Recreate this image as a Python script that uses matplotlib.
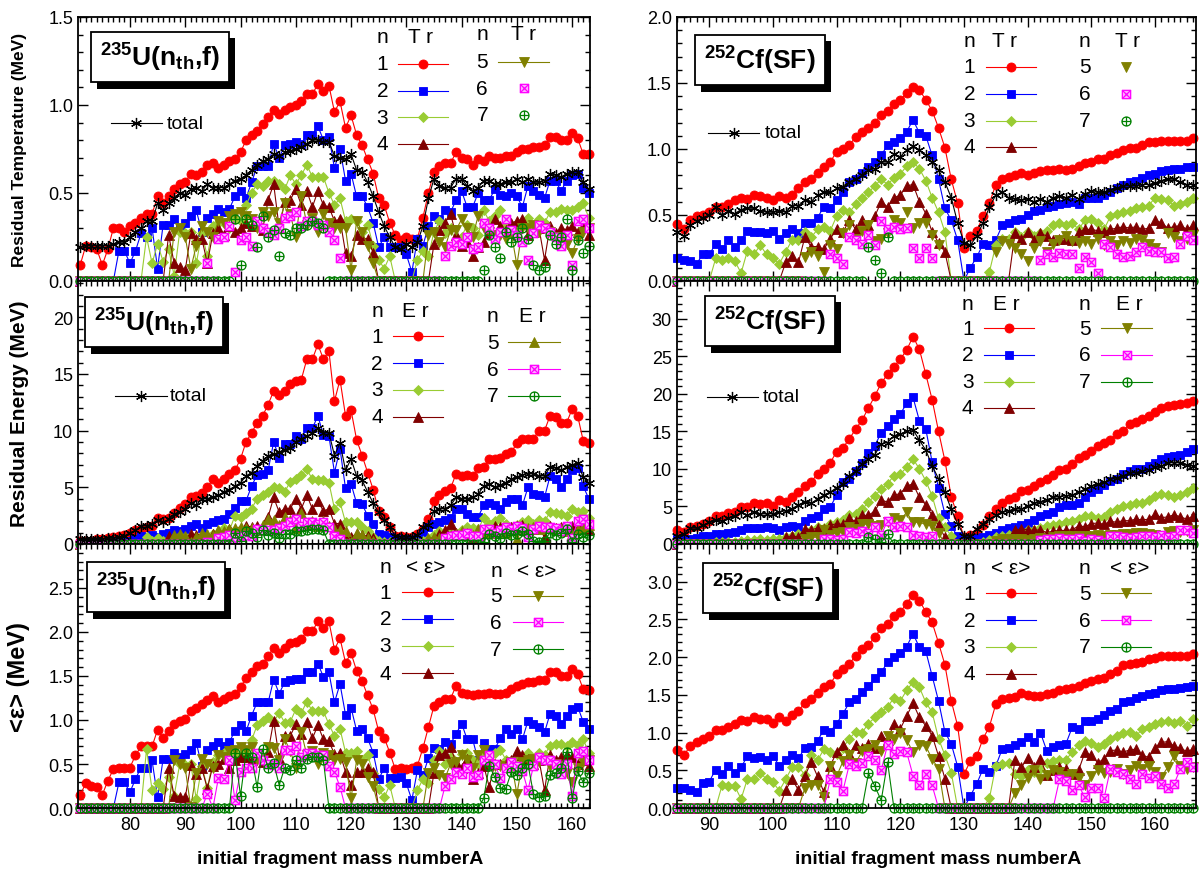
import matplotlib
matplotlib.use('Agg')
import matplotlib.pyplot as plt
import matplotlib.patheffects as pe
from matplotlib.path import Path
from matplotlib.ticker import MultipleLocator, FormatStrFormatter

plt.rcParams['font.family'] = ['Liberation Sans', 'DejaVu Sans']
plt.rcParams['mathtext.fontset'] = 'custom'
plt.rcParams['mathtext.rm'] = 'Liberation Sans'
plt.rcParams['mathtext.bf'] = 'Liberation Sans:bold'
plt.rcParams['mathtext.it'] = 'Liberation Sans:italic'

# mass numbers
A_U = list(range(71, 164))
A_CF = list(range(85, 167))

# ---------------- 235U(nth,f): residual temperature ----------------
U_TR_1 = [.09, .20, .19, .18, .09, .18, .30, .30, .28, .31,
          .33, .36, .38, .38, .48, .44, .48, .52, .55, .56,
          .61, .60, .62, .66, .67, .64, .66, .68, .69, .73,
          .80, .83, .85, .89, .93, .97, .95, .97, .99, 1.00,
          1.02, 1.06, 1.06, 1.12, 1.08, 1.11, .96, 1.02, .87, .94,
          .83, .77, .69, .61, .47, .43, .33, .26, .23, .25,
          .24, .24, .36, .50, .62, .65, .67, .67, .73, .70,
          .69, .66, .69, .68, .71, .70, .70, .71, .71, .73,
          .75, .75, .76, .76, .77, .82, .82, .80, .80, .84,
          .81, .72, .72]
U_TR_2 = [0, 0, 0, 0, 0, 0, 0, .17, .17, .10,
          .17, .27, .25, .30, .07, .32, .32, .35, .30, .33,
          .37, .40, .28, .36, .38, .41, .39, .41, .48, .51,
          .47, .56, .65, .65, .65, .78, .70, .77, .78, .79,
          .78, .83, .83, .88, .80, .82, .64, .75, .57, .61,
          .48, .48, .42, .33, .19, .25, .19, .19, .19, .15,
          .05, .24, .20, .31, .37, .35, .40, .39, .46, .51,
          .42, .42, .50, .46, .46, .52, .49, .48, .50, .48,
          .42, .54, .51, .49, .47, .57, .57, .51, .57, .60,
          .61, .53, .50]
U_TR_3 = [0] * 12 + [.25, .10, .21, .11, .18, .03, .28, .27,
          .28, .10, .27, .14, .31, .33, .33, .30, .35, .34,
          .43, .50, .55, .54, .57, .57, .55, .52, .60, .55,
          .60, .66, .59, .59, .59, .50, .43, .47, .34, .35,
          .34, .28, .32, .20, .12, .07, .14, 0, 0, 0,
          0, .12, .17, .14, .28, .34, .27, .30, .22, .25,
          .32, .30, .26, .40, .34, .37, .40, .32, .28, .30,
          .33, .36, .30, .35, .33, .39, .39, .41, .40, .40,
          .42, .44, .36]
U_TR_4 = [0] * 16 + [.26, .10, .08, .06,
          .27, .24, .24, .10, .27, .30, .26, .31, .28, .30,
          .33, .31, .32, .29, .46, .55, .30, .45, .46, .52,
          .43, .51, .42, .51, .43, .42, .34, .35, .16, .14,
          .26, .24, .24, .16] + [0] * 10 + [.21, .29, .33, .38, .26, .20,
          .22, .14, .19, .22, .27, .35, .31, .29, .33, .34,
          .35, .26, .28, .30, .12, .31, .27, .30, .29, .31,
          .28, .31, .26]
U_TR_5 = [0] * 17 + [.28, .30, .25,
          .07, .20, .31, .28, .25, .34, .33, .37, .38, .39,
          .37, .35, .30, .39, .37, .39, .33, .44, .38, .25,
          .48, .32, .36, .28, .38, .33, .30, .30, .30, .06,
          .34, .28, .20, .10] + [0] * 9 + [.26, .28, .22, .19, .29, .29, .35,
          .30, .25, .37, .30, .28, .26, .26, .24, .27, .09,
          .30, .30, .32, .28, .30, .28, .25, .25, .21, .16,
          .24, .28, .30]
U_TR_6 = [0] * 23 + [.10, 0, .24, .25, .31, .05, .23,
          .25, .20, .34, .30, .28, .26, .30, .36, .37, .39,
          .31, .34, .34, .32, .32, .28, .23, .13] + [0] * 18 + [.14, .20, .22, .21,
          .25, .18, .19, .33, .30, .24, .28, .35, .29, .26,
          .22, .12, .27, .32, .30, .28, .25, .20, .26, .09,
          .34, .35, .30]
U_TR_7 = [0] * 28 + [.35, .09,
          .35, .32, .19, .37, .25, .29, .14, .27, .26, .30,
          .30, .32, .34, .33, .30] + [0] * 28 + [.06, .26, .19, .13, .28, .22, .25,
          .30, .24, .09, .06, .08, .26, .21, .25, .35, .06,
          .23, .16, .20]
U_TR_TOT = [.19, .20, .20, .20, .20, .20, .21, .22, .22, .25,
            .28, .30, .34, .34, .44, .40, .44, .47, .50, .49,
            .52, .53, .51, .55, .53, .53, .53, .55, .57, .58,
            .60, .63, .66, .68, .69, .72, .71, .73, .74, .75,
            .76, .78, .80, .80, .79, .79, .71, .70, .69, .72,
            .63, .62, .56, .48, .39, .31, .25, .19, .18, .21,
            .19, .22, .31, .47, .58, .54, .53, .53, .58, .58,
            .54, .51, .53, .57, .57, .55, .55, .56, .56, .58,
            .56, .58, .56, .56, .57, .61, .60, .59, .61, .62,
            .62, .56, .52]

# ---------------- 235U(nth,f): residual energy ----------------
U_ER_1 = [.3, .3, .3, .4, .4, .5, .6, .7, .8, 1.0,
          1.2, 1.3, 1.5, 1.6, 2.3, 2.2, 2.3, 2.7, 3.2, 3.5,
          4.1, 4.2, 4.5, 5.0, 5.7, 5.4, 5.7, 6.2, 6.5, 7.5,
          9.0, 9.8, 10.7, 11.3, 12.3, 13.5, 13.1, 13.5, 14.1, 14.4,
          14.5, 16.3, 16.3, 17.6, 16.3, 17.0, 12.6, 14.5, 11.3, 11.8,
          9.2, 7.8, 6.3, 4.8, 2.9, 2.4, 1.5, .7, .7, .6,
          .6, .9, 1.3, 2.2, 3.8, 4.3, 4.7, 4.9, 6.2, 6.0,
          6.1, 6.0, 6.7, 6.8, 7.5, 7.5, 7.6, 7.9, 8.1, 8.9,
          9.3, 9.3, 9.3, 10.0, 10.0, 11.3, 11.2, 10.7, 10.7, 11.9,
          11.3, 9.1, 8.9]
U_ER_2 = [0, 0, 0, 0, 0, 0, .1, .2, .3, .3,
          .4, .7, .6, .8, .6, .9, 1.0, 1.2, 1.1, 1.3,
          1.6, 1.8, 1.4, 1.8, 1.9, 2.1, 2.2, 2.6, 3.2, 3.8,
          3.8, 5.1, 6.1, 6.2, 6.5, 9.0, 7.6, 8.8, 8.8, 9.5,
          9.3, 10.2, 10.2, 11.3, 9.6, 9.5, 6.3, 8.4, 4.9, 5.3,
          3.6, 3.5, 2.5, 1.8, .9, .8, .6, .4, .4, .4,
          .3, .4, 1.0, 1.5, 1.8, 1.9, 2.1, 2.3, 3.1, 3.1,
          2.6, 2.4, 2.4, 3.4, 3.6, 3.4, 3.1, 3.7, 4.0, 4.0,
          3.4, 5.0, 4.4, 4.3, 4.1, 6.0, 5.7, 5.0, 5.7, 6.5,
          6.7, 5.1, 4.0]
U_ER_3 = [0] * 12 + [.6, .3, .5, .3, .4, .1, .7, .6,
          .7, .3, .7, .4, .9, 1.0, 1.4, 1.2, 2.5, 2.4,
          2.7, 3.1, 4.0, 4.3, 4.6, 5.0, 4.9, 4.6, 5.5, 5.7,
          6.1, 6.6, 5.7, 5.6, 5.6, 5.4, 3.1, 3.7, 1.9, 1.9,
          1.9, 1.5, 1.1, .6, .3, .2, .2, 0, 0, 0,
          0, .2, .3, .4, .8, 1.1, 1.0, 1.2, .9, 1.2,
          1.5, 1.4, 1.3, 2.3, 1.8, 2.0, 2.3, 1.8, 1.5, 1.7,
          1.9, 2.1, 1.8, 2.1, 2.0, 2.8, 2.7, 2.6, 2.5, 3.1,
          2.8, 2.9, 2.3]
U_ER_4 = [0] * 16 + [.7, .3, .2, .2,
          .9, .8, .8, .3, .9, 1.1, 1.0, 1.3, 1.2, 1.3,
          1.6, 1.5, 1.6, 1.5, 2.4, 4.1, 2.8, 3.1, 3.1, 4.0,
          3.1, 4.3, 3.1, 3.8, 2.9, 3.1, 1.8, 1.8, 1.0, .6,
          .9, .8, .7, .5] + [0] * 10 + [.5, .9, 1.2, 1.8, 1.0, .8,
          .9, .6, .8, 1.0, 1.2, 1.6, 1.5, 1.4, 1.5, 1.6,
          1.7, 1.2, 1.3, 1.4, .6, 1.6, 1.4, 1.5, 1.5, 1.6,
          1.4, 1.7, 1.3]
U_ER_5 = [0] * 17 + [.8, .9, .7,
          .2, .6, 1.0, .9, .8, 1.2, 1.1, 1.3, 1.4, 1.5,
          1.4, 1.4, 1.2, 1.7, 2.2, 2.1, 1.7, 2.4, 2.1, 1.4,
          2.7, 1.8, 2.0, 1.6, 2.0, 1.6, 1.3, 1.2, 1.1, .2,
          1.0, .8, .5, .3] + [0] * 9 + [.5, .6, .5, .5, .8, .9, 1.1,
          1.0, .8, 1.3, 1.1, 1.0, 1.0, 1.1, 1.0, 1.2, .4,
          1.3, 1.4, 1.5, 1.3, 1.4, 1.4, 1.3, 1.3, 1.1, .9,
          1.3, 1.5, 1.7]
U_ER_6 = [0] * 23 + [.2, 0, .5, .6, .8, .15, .7,
          .8, .7, 1.3, 1.2, 1.2, 1.2, 1.4, 1.6, 1.9, 2.2,
          1.6, 1.9, 1.9, 1.8, 1.9, 1.5, .7, .4] + [0] * 18 + [.5, .7, .8, .8,
          1.0, .7, .7, 1.3, 1.3, 1.0, 1.2, 1.5, 1.3, 1.6,
          1.4, .6, 1.3, 1.6, 1.5, 1.5, 1.4, 1.1, 1.6, .5,
          2.0, 2.2, 1.8]
U_ER_7 = [0] * 28 + [1.0, .3,
          1.1, 1.0, .6, 1.2, .8, 1.0, .5, .9, .9, 1.1,
          1.1, 1.2, 1.3, 1.3, 1.2] + [0] * 28 + [.2, .9, .7, .5, 1.0, .8, .9,
          1.1, .9, .3, .2, .3, 1.0, .8, 1.0, 1.3, .2,
          .9, .6, .8]
U_ER_TOT = [.4, .4, .4, .4, .4, .5, .5, .6, .7, 1.0,
            1.2, 1.6, 1.6, 1.8, 2.1, 1.9, 2.2, 2.6, 2.8, 3.1,
            3.6, 3.4, 4.0, 4.0, 4.1, 4.3, 4.6, 4.8, 5.1, 5.4,
            6.0, 6.3, 6.9, 7.3, 7.8, 7.9, 8.1, 8.3, 8.5, 9.0,
            9.3, 9.5, 9.8, 10.2, 9.8, 9.8, 7.8, 8.9, 6.5, 7.5,
            6.0, 5.6, 4.6, 3.6, 2.8, 2.1, 1.5, .7, .6, .6,
            .6, .8, 1.5, 1.7, 2.9, 3.1, 3.1, 3.4, 4.1, 4.0,
            4.0, 4.1, 4.4, 5.1, 5.3, 5.0, 5.2, 5.4, 5.7, 5.9,
            6.1, 6.2, 6.2, 6.0, 6.0, 6.8, 6.7, 6.5, 6.8, 7.0,
            7.1, 5.9, 5.4]

# ---------------- 235U(nth,f): mean neutron energy ----------------
U_EP_1 = [.15, .28, .25, .24, .15, .31, .44, .45, .45, .46,
          .60, .70, .70, .70, .89, .79, .88, .95, .99, 1.01,
          1.10, 1.14, 1.18, 1.23, 1.27, 1.20, 1.24, 1.27, 1.30, 1.37,
          1.48, 1.54, 1.61, 1.64, 1.73, 1.82, 1.76, 1.82, 1.87, 1.89,
          1.92, 2.01, 2.01, 2.12, 2.05, 2.12, 1.80, 1.93, 1.65, 1.76,
          1.56, 1.44, 1.28, 1.12, .87, .80, .63, .44, .45, .44,
          .45, .48, .68, .92, 1.16, 1.21, 1.24, 1.24, 1.39, 1.31,
          1.29, 1.28, 1.29, 1.30, 1.31, 1.30, 1.30, 1.31, 1.35, 1.39,
          1.41, 1.43, 1.43, 1.46, 1.46, 1.54, 1.54, 1.50, 1.50, 1.58,
          1.52, 1.35, 1.34]
U_EP_2 = [0, 0, 0, 0, 0, 0, 0, .29, .29, .18,
          .33, .46, .46, .54, .12, .56, .56, .63, .58, .61,
          .66, .74, .48, .66, .70, .75, .71, .75, .88, .94,
          .87, 1.05, 1.20, 1.20, 1.20, 1.46, 1.30, 1.43, 1.46, 1.47,
          1.47, 1.55, 1.55, 1.64, 1.49, 1.54, 1.20, 1.41, 1.06, 1.14,
          .88, .90, .79, .63, .33, .45, .34, .34, .35, .28,
          .09, .43, .37, .57, .68, .67, .75, .73, .84, .96,
          .78, .78, .54, .74, .67, .67, .79, .90, .84, .90,
          .78, .99, .95, .92, .86, 1.07, 1.05, .95, 1.05, 1.12,
          1.15, .98, .90]
U_EP_3 = [0] * 12 + [.67, .20, .28, .22, .35, .14, .50, .49,
          .50, .10, .48, .23, .52, .60, .63, .58, .62, .60,
          .62, .77, .94, .99, 1.03, .98, 1.08, .97, .98, 1.12,
          1.08, 1.21, 1.10, 1.10, 1.10, .95, .82, .90, .63, .63,
          .65, .55, .60, .40, .22, .12, .26, 0, 0, 0,
          0, .20, .33, .28, .55, .65, .50, .58, .45, .61,
          .62, .55, .50, .62, .55, .63, .66, .55, .52, .55,
          .58, .63, .56, .62, .60, .71, .73, .73, .70, .75,
          .72, .78, .63]
U_EP_4 = [0] * 16 + [.45, .14, .13, .12,
          .49, .39, .45, .22, .48, .50, .56, .45, .55, .58,
          .58, .55, .60, .52, .64, .99, .57, .82, .82, .95,
          .84, .98, .79, .94, .78, .76, .61, .62, .41, .26,
          .41, .41, .45, .41] + [0] * 10 + [.40, .60, .63, .69, .52, .45,
          .56, .33, .40, .48, .24, .50, .50, .50, .55, .65,
          .60, .56, .50, .55, .20, .60, .55, .58, .60, .58,
          .50, .55, .48]
U_EP_5 = [0] * 17 + [.55, .50, .45,
          .01, .40, .56, .50, .45, .60, .58, .65, .66, .69,
          .66, .69, .55, .54, .69, .68, .55, .78, .65, .46,
          .86, .60, .65, .50, .63, .60, .54, .56, .52, .11,
          .54, .50, .35, .25] + [0] * 9 + [.40, .45, .38, .34, .50, .52, .60,
          .55, .45, .60, .66, .50, .48, .48, .46, .52, .16,
          .52, .55, .56, .52, .55, .48, .50, .48, .40, .30,
          .45, .52, .55]
U_EP_6 = [0] * 23 + [.16, 0, .34, .33, .54, .09, .41,
          .45, .46, .63, .55, .50, .49, .46, .66, .66, .71,
          .58, .63, .63, .60, .60, .48, .41, .24] + [0] * 18 + [.25, .33, .41, .39,
          .45, .35, .38, .55, .60, .50, .34, .45, .52, .48,
          .42, .20, .48, .58, .55, .55, .50, .39, .50, .14,
          .63, .65, .55]
U_EP_7 = [0] * 28 + [.63, .14,
          .63, .58, .24, .67, .45, .51, .26, .46, .43, .54,
          .46, .56, .58, .58, .54] + [0] * 28 + [.11, .48, .35, .23, .22, .41, .38,
          .45, .50, .16, .12, .14, .38, .40, .45, .64, .11,
          .42, .29, .40]

# ---------------- 252Cf(SF): residual temperature ----------------
CF_TR_1 = [.43, .39, .46, .49, .50, .52, .56, .56, .58, .61,
           .63, .62, .65, .64, .63, .61, .64, .63, .65, .70,
           .75, .77, .82, .86, .90, .98, 1.00, 1.03, 1.09, 1.13,
           1.16, 1.20, 1.26, 1.29, 1.34, 1.37, 1.42, 1.47, 1.45, 1.37,
           1.29, 1.16, 1.01, .77, .59, .25, .34, .38, .49, .59,
           .73, .77, .79, .80, .82, .80, .82, .83, .84, .84,
           .85, .84, .85, .87, .89, .90, .92, .92, .95, .97,
           .99, 1.01, 1.01, 1.03, 1.05, 1.05, 1.06, 1.06, 1.06, 1.06,
           1.06, 1.08]
CF_TR_2 = [.17, .16, .15, .13, .20, .20, .28, .24, .31, .26,
           .31, .38, .37, .37, .36, .38, .32, .36, .39, .36,
           .44, .44, .48, .56, .55, .61, .67, .75, .77, .82,
           .86, .90, .95, 1.03, 1.05, 1.08, 1.13, 1.22, 1.12, 1.10,
           .95, .77, .55, .46, .31, 0, .10, .18, .28, .27,
           .31, .42, .44, .46, .47, .50, .53, .54, .56, .57,
           .58, .59, .60, .58, .63, .63, .63, .65, .67, .70,
           .73, .75, .76, .78, .80, .81, .83, .84, .85, .85,
           .86, .86]
CF_TR_3 = [0, 0, 0, 0, 0, 0, .17, .16, .17, .15,
           .06, .23, .20, .27, .20, .17, .13, .22, .31, .31,
           .37, .33, .39, .41, .38, .49, .54, .52, .58, .63,
           .67, .72, .77, .73, .78, .81, .87, .90, .85, .76,
           .63, .52, .37, 0, 0, 0, 0, 0, 0, .07,
           .27, .32, .32, .37, .33, .37, .34, .36, .38, .42,
           .44, .42, .44, .39, .46, .47, .44, .39, .49, .51,
           .52, .53, .55, .56, .57, .63, .62, .61, .57, .58,
           .60, .63]
CF_TR_4 = [0] * 17 + [.14, .19, .14,
           .33, .26, .26, .24, .32, .39, .37, .46, .39, .46,
           .42, .49, .60, .56, .63, .65, .72, .73, .60, .51,
           .37, .29, .22] + [0] * 10 + [.36, .32, .37, .31, .36, .34, .31,
           .32, .32, .31, .37, .39, .39, .38, .37, .39, .40,
           .41, .40, .41, .39, .40, .46, .44, .40, .41, .42,
           .39, .42]
CF_TR_5 = [0] * 20 + [.18, .22, .19, .07, .27, .24, .36, .42, .32, .38,
           .42, .30, .32, .36, .46, .44, .52, .40, .44, .44,
           .35, .27] + [0] * 8 + [.22, .30, .28, .25, .20, .15, .25, .30, .22, .28,
           .31, .34, .30, .29, .30, .28, .32, .27, .30, .27,
           .30, .29, .32, .31, .28, .25, .22, .36, .33, .30,
           .32, .35]
CF_TR_6 = [0] * 24 + [.20, .17, .13, .33, .31, .28,
           .35, .27, .45, .39, .41, .39, .40, .25, .17, .25,
           .17] + [0] * 16 + [.16, .20, .18, .21, .20, .20, .10, .18, .14, .06, .28, .26, .20,
           .18, .19, .22, .26, .23, .22, .22, .17, .18, .28,
           .34, .31]
CF_TR_7 = [0] * 30 + [.26, .16, .06, .33] + [0] * 48
CF_TR_TOT = [.37, .34, .42, .45, .48, .50, .56, .50, .53, .51,
             .54, .55, .55, .53, .52, .52, .53, .52, .57, .57,
             .61, .60, .65, .67, .67, .70, .71, .75, .77, .80,
             .84, .85, .90, .90, .96, .94, .99, 1.02, .99, .95,
             .90, .84, .75, .63, .44, .29, .27, .34, .44, .56,
             .65, .67, .63, .62, .61, .62, .60, .62, .60, .63,
             .64, .63, .65, .62, .66, .68, .67, .67, .69, .70,
             .72, .72, .72, .73, .73, .74, .76, .77, .77, .75,
             .73, .73]

# ---------------- 252Cf(SF): residual energy ----------------
CF_ER_1 = [1.9, 1.6, 2.2, 2.4, 2.7, 3.0, 3.7, 3.7, 4.1, 4.3,
           4.9, 4.9, 5.4, 5.3, 5.4, 5.1, 5.9, 5.6, 6.2, 6.9,
           7.7, 8.3, 9.3, 10.0, 10.8, 12.3, 12.8, 14.0, 15.3, 16.5,
           18.1, 19.7, 21.4, 22.6, 23.6, 24.6, 25.8, 27.6, 25.9, 22.6,
           19.2, 15.0, 11.1, 6.3, 3.7, .9, 1.2, 1.5, 2.5, 3.7,
           4.6, 5.4, 6.0, 6.3, 7.1, 7.2, 7.7, 8.2, 8.6, 9.2,
           9.9, 10.0, 10.6, 11.4, 11.8, 12.4, 13.1, 13.4, 13.9, 14.6,
           15.0, 15.9, 16.2, 16.6, 17.0, 17.5, 18.1, 18.4, 18.5, 18.6,
           18.7, 19.0]
CF_ER_2 = [.6, .6, .7, .8, 1.0, 1.1, 1.3, 1.3, 1.5, 1.6,
           1.9, 2.1, 2.1, 2.1, 2.2, 2.1, 1.9, 2.3, 2.4, 2.3,
           3.1, 3.4, 3.7, 4.6, 4.9, 6.5, 8.2, 8.7, 9.7, 10.8,
           12.1, 13.1, 14.8, 15.7, 16.6, 17.3, 18.7, 19.5, 16.4, 15.3,
           10.9, 7.5, 4.0, 2.4, 1.0, .3, .7, .8, .9, 1.2,
           1.5, 1.9, 2.1, 2.3, 2.5, 2.8, 3.2, 3.7, 4.0, 4.3,
           4.9, 5.2, 5.2, 5.5, 6.3, 6.9, 7.3, 7.8, 8.4, 8.7,
           9.3, 9.7, 10.0, 10.0, 10.4, 10.8, 11.3, 11.6, 11.7, 11.9,
           12.2, 12.6]
CF_ER_3 = [0, 0, 0, 0, 0, 0, .3, .3, .3, .3,
           .4, .5, .5, .6, .5, .6, .6, .9, 1.0, 1.3,
           1.5, 1.8, 2.3, 2.1, 2.7, 2.9, 3.2, 3.8, 4.0, 4.6,
           5.6, 6.4, 7.3, 8.0, 9.1, 9.3, 10.2, 11.3, 10.0, 8.4,
           6.4, 3.4, 2.2, 1.1, 0, 0, 0, 0, .2, .5,
           .9, 1.0, 1.2, 1.5, 1.5, 1.8, 1.9, 2.1, 2.4, 2.5,
           2.7, 2.9, 3.1, 3.3, 3.7, 3.7, 3.4, 3.6, 4.2, 4.6,
           5.0, 5.2, 5.4, 5.5, 5.8, 6.4, 6.6, 6.5, 6.3, 6.5,
           6.9, 7.4]
CF_ER_4 = [0] * 17 + [.9, 1.1, .9,
           2.0, 1.9, 2.1, 2.0, 2.5, 2.7, 2.6, 3.4, 3.0, 3.8,
           3.8, 4.4, 5.8, 5.6, 6.5, 6.7, 7.7, 8.0, 6.2, 5.2,
           3.8, 2.5, .9] + [0] * 10 + [1.8, 2.0, 1.9, 1.8, 1.9, 1.5, 1.7,
           1.8, 1.8, 1.9, 2.4, 2.3, 2.7, 2.8, 2.6, 3.0, 2.9,
           3.1, 3.1, 3.3, 3.2, 3.3, 4.0, 3.5, 3.6, 3.9, 3.6,
           3.3, 3.7]
CF_ER_5 = [0] * 20 + [.6, .9, .9, 1.8, 1.2, 1.5, 1.6, 2.2, 2.0, 2.7,
           2.6, 2.4, 2.5, 2.9, 3.5, 3.2, 4.2, 2.9, 2.9, 2.6,
           2.4, 1.5] + [0] * 8 + [.4, .6, .6, .7, .6, .5, .7, .8, .7, .9,
           1.0, 1.0, 1.1, 1.0, 1.1, 1.1, 1.2, 1.1, 1.2, 1.2,
           1.3, 1.3, 1.4, 1.4, 1.3, 1.2, 1.1, 1.6, 1.7, 1.6,
           1.7, 1.8]
CF_ER_6 = [0] * 23 + [.6, .7, .5, .7, 1.6, 1.5, 1.7,
           1.4, 2.2, 1.2, 3.1, 2.3, 2.4, 2.3, 1.2, 1.1, .9,
           1.1] + [0] * 16 + [.5, .6, .6, .8, .7, .7, .8, .4, .6, .5, .3, 1.1, 1.0,
           .9, .8, .9, 1.0, 1.0, .9, 1.2, .9, 1.0, 1.8,
           1.8, 1.5]
CF_ER_7 = [0] * 30 + [.9, .6, .2, 1.3] + [0] * 48
CF_ER_TOT = [1.1, 1.3, 2.1, 2.1, 2.5, 2.9, 3.2, 3.0, 3.5, 3.7,
             4.2, 3.8, 4.2, 4.0, 4.0, 4.0, 4.3, 4.4, 4.7, 5.2,
             5.6, 5.4, 6.0, 6.5, 6.9, 7.5, 8.0, 9.1, 9.7, 10.6,
             11.3, 11.9, 13.3, 13.5, 14.4, 14.6, 15.0, 15.2, 13.8, 12.5,
             10.4, 8.7, 6.9, 4.6, 2.7, 1.1, 1.0, 2.0, 2.7, 3.3,
             3.8, 4.2, 4.4, 4.7, 4.6, 5.1, 5.4, 5.6, 5.9, 6.2,
             6.3, 6.4, 6.5, 6.9, 7.3, 7.7, 8.0, 8.2, 8.6, 8.8,
             9.1, 9.4, 9.5, 9.7, 9.9, 10.2, 10.4, 10.8, 10.8, 10.8,
             10.5, 10.4]

# ---------------- 252Cf(SF): mean neutron energy ----------------
CF_EP_1 = [.77, .70, .82, .87, .92, .95, 1.04, 1.03, 1.07, 1.12,
           1.17, 1.15, 1.20, 1.18, 1.18, 1.13, 1.20, 1.15, 1.23, 1.29,
           1.39, 1.44, 1.53, 1.60, 1.65, 1.77, 1.84, 1.91, 2.02, 2.11,
           2.16, 2.27, 2.38, 2.44, 2.55, 2.60, 2.71, 2.83, 2.75, 2.60,
           2.46, 2.19, 1.90, 1.42, 1.09, .45, .62, .69, .92, 1.08,
           1.38, 1.44, 1.46, 1.47, 1.53, 1.50, 1.49, 1.49, 1.51, 1.53,
           1.56, 1.58, 1.59, 1.62, 1.66, 1.69, 1.71, 1.72, 1.78, 1.82,
           1.89, 1.91, 1.92, 1.94, 1.97, 1.99, 2.01, 2.02, 2.02, 2.02,
           2.02, 2.04]
CF_EP_2 = [.27, .26, .24, .21, .33, .35, .51, .45, .56, .47,
           .54, .69, .66, .67, .64, .69, .56, .63, .70, .66,
           .79, .81, .89, 1.04, 1.01, 1.12, 1.25, 1.40, 1.45, 1.54,
           1.62, 1.72, 1.80, 1.93, 2.00, 2.06, 2.14, 2.31, 2.13, 2.08,
           1.75, 1.42, 1.01, .85, .55, 0, .16, .32, .52, .48,
           .56, .78, .80, .84, .87, .94, .88, 1.00, .76, .81,
           .84, .85, 1.07, 1.05, 1.15, 1.16, 1.18, 1.23, 1.28, 1.31,
           1.40, 1.42, 1.46, 1.49, 1.51, 1.53, 1.56, 1.58, 1.58, 1.59,
           1.60, 1.62]
CF_EP_3 = [0, 0, 0, 0, 0, 0, 0, .30, .29, .29,
           .12, .39, .38, .47, .38, .34, .23, .38, .54, .55,
           .44, .70, .63, .78, .74, .72, .80, .92, 1.01, 1.00,
           1.12, 1.20, 1.27, 1.34, 1.46, 1.42, 1.56, 1.67, 1.60, 1.40,
           1.27, .92, .70, .47, 0, 0, 0, 0, 0, .13,
           .56, .58, .60, .45, .43, .50, .48, .52, .60, .62,
           .63, .64, .74, .83, .89, .86, .81, .85, .92, .96,
           1.00, 1.01, .95, 1.05, 1.07, 1.12, 1.14, 1.15, 1.13, 1.15,
           1.09, 1.18]
CF_EP_4 = [0] * 17 + [.24, .38, .24,
           .42, .61, .42, .21, .56, .74, .84, .72, .84, .80,
           .85, .80, .96, .90, 1.12, 1.05, 1.22, 1.39, 1.20, 1.09,
           .96, .69, .39] + [0] * 10 + [.64, .54, .66, .54, .65, .44, .50,
           .55, .52, .45, .50, .74, .70, .60, .65, .76, .77,
           .74, .77, .78, .70, .67, .80, .87, .88, .82, .79,
           .75, .78]
CF_EP_5 = [0] * 20 + [.26, .30, .31, .15, .56, .42, .62, .70, .60, .75,
           .78, .83, .75, .95, .92, 1.00, .90, .74, .83, .82,
           .65, .52] + [0] * 11 + [.20, .30, .40, .50, .38, .44, .50,
           .48, .42, .45, .40, .30, .42, .50, .46, .48, .52,
           .45, .50, .56, .52, .56, .48, .41, .54, .69, .56,
           .52, .55]
CF_EP_6 = [0] * 24 + [.38, .34, .23, .58, .56, .60,
           .69, .63, .50, .84, .72, .75, .74, .43, .30, .45,
           .30] + [0] * 19 + [.38, .36, .24, .30, .14, .27, .27, .13, .52, .48,
           .45, .38, .32, .45, .40, .42, .32, .26, .32, .52,
           .61, .54]
CF_EP_7 = [0] * 30 + [.46, .29, .10, .61] + [0] * 48

# ---------------- styles ----------------
BOXX = Path.make_compound_path(
    Path([(-1, -1), (1, -1), (1, 1), (-1, 1), (-1, -1)],
         [Path.MOVETO, Path.LINETO, Path.LINETO, Path.LINETO, Path.CLOSEPOLY]),
    Path([(-1, -1), (1, 1), (-1, 1), (1, -1)],
         [Path.MOVETO, Path.LINETO, Path.MOVETO, Path.LINETO]))
OPLUS = Path.make_compound_path(
    Path.unit_circle(),
    Path([(-1, 0), (1, 0), (0, -1), (0, 1)],
         [Path.MOVETO, Path.LINETO, Path.MOVETO, Path.LINETO]))

COLORS = ['#ff0000', '#0000ff', '#99cc33', '#800000', '#808000', '#ff00ff', '#008000']
MARKERS = ['o', 's', 'D', '^', 'v', BOXX, OPLUS]
SIZES = [6.5, 6, 5.2, 6.5, 6.5, 6, 6.5]


def style(n, mark5='v'):
    c = COLORS[n - 1]
    m = MARKERS[n - 1] if n != 5 else mark5
    st = dict(color=c, lw=0.8, marker=m, ms=SIZES[n - 1], mfc=c, mec=c,
              mew=0.6, clip_on=False)
    if n == 6:
        st.update(mfc='#ffaaff', mew=0.9)
    if n == 7:
        st.update(mfc='none', mew=0.9)
    return st


STAR = dict(color='k', lw=0.8, marker=(6, 2, 0), ms=8, mew=0.9, clip_on=False)


def draw(ax, A, series, total, nolines=(), mark5='v'):
    for k, y in enumerate(series):
        n = k + 1
        ax.plot(A, y, ls='none' if n in nolines else '-', **style(n, mark5))
    if total is not None:
        ax.plot(A, total, ls='-', **STAR)


def axes_fmt(ax, xlim, ylim, ymin, yticks, fmt, xlabels):
    ax.set_xlim(*xlim)
    ax.set_ylim(*ylim)
    ax.xaxis.set_major_locator(MultipleLocator(10))
    ax.xaxis.set_minor_locator(MultipleLocator(1))
    ax.set_yticks(yticks)
    ax.yaxis.set_minor_locator(MultipleLocator(ymin))
    ax.yaxis.set_major_formatter(FormatStrFormatter(fmt))
    ax.tick_params(which='both', direction='in', top=True, right=True,
                   labelsize=13, width=1)
    ax.tick_params(which='major', length=7)
    ax.tick_params(which='minor', length=3.5)
    ax.tick_params(axis='x', labelbottom=xlabels, pad=6)
    for s in ax.spines.values():
        s.set_linewidth(1.3)


def key_block(ax, rows, col1, col2, head, nolines=(), mark5='v'):
    # rows: y of the rows in each column; col: (x number, x header, y header, x0, x1)
    for col, ns, ys in ((col1, (1, 2, 3, 4), rows[0]), (col2, (5, 6, 7), rows[1])):
        xn, xh, yh, x0, x1 = col
        ax.text(xn, yh, 'n', transform=ax.transAxes, ha='center', va='center', fontsize=15)
        ax.text(xh, yh, head, transform=ax.transAxes, ha='center', va='center', fontsize=15)
        for n, y in zip(ns, ys):
            ax.text(xn, y, str(n), transform=ax.transAxes, ha='center', va='center', fontsize=15)
            has_line = n not in nolines
            ax.plot([x0, (x0 + x1) / 2, x1], [y] * 3, transform=ax.transAxes,
                    ls='-' if has_line else 'none', markevery=[1], **style(n, mark5))


def total_key(ax, x0, x1, y, xt):
    ax.plot([x0, (x0 + x1) / 2, x1], [y] * 3, transform=ax.transAxes, markevery=[1], **STAR)
    ax.text(xt, y, 'total', transform=ax.transAxes, ha='left', va='center', fontsize=14)


def tag(ax, x, y, s):
    t = ax.text(x, y, s, transform=ax.transAxes, ha='center', va='center', fontsize=19,
                bbox=dict(boxstyle='square,pad=0.35', fc='white', ec='k', lw=1.3), zorder=9)
    # black drop shadow under the box
    t.get_bbox_patch().set_path_effects([
        pe.SimplePatchShadow(offset=(4.5, -4.5), shadow_rgbFace='k', alpha=1.0),
        pe.Normal()])


U_TAG = r'$\mathbf{{}^{235}U(n_{th}{,}f)}$'
CF_TAG = r'$\mathbf{{}^{252}Cf(SF)}$'
XL_U = (70.6, 163.3)
XL_CF = (84.9, 166.5)

fig = plt.figure(figsize=(12, 8.7), dpi=100)
LX, LW = 0.065, 0.427
RX, RW = 0.564, 0.433
ROWS = [(0.676, 0.3034), (0.3736, 0.3023), (0.0701, 0.3035)]

ax1 = fig.add_axes([LX, ROWS[0][0], LW, ROWS[0][1]])
ax2 = fig.add_axes([RX, ROWS[0][0], RW, ROWS[0][1]])
ax3 = fig.add_axes([LX, ROWS[1][0], LW, ROWS[1][1]])
ax4 = fig.add_axes([RX, ROWS[1][0], RW, ROWS[1][1]])
ax5 = fig.add_axes([LX, ROWS[2][0], LW, ROWS[2][1]])
ax6 = fig.add_axes([RX, ROWS[2][0], RW, ROWS[2][1]])

# residual temperature
draw(ax1, A_U, [U_TR_1, U_TR_2, U_TR_3, U_TR_4, U_TR_5, U_TR_6, U_TR_7], U_TR_TOT, nolines=(6, 7))
axes_fmt(ax1, XL_U, (0, 1.5), 0.1, [0, 0.5, 1.0, 1.5], '%.1f', False)
key_block(ax1, ([0.822, 0.721, 0.62, 0.519], [0.831, 0.73, 0.629]),
          (0.594, 0.668, 0.924, 0.625, 0.723), (0.789, 0.869, 0.936, 0.82, 0.92),
          'T r', nolines=(6, 7))
total_key(ax1, 0.064, 0.164, 0.598, 0.174)
tag(ax1, 0.16, 0.848, U_TAG)
ax1.set_ylabel('Residual Temperature (MeV)', fontsize=12.5, fontweight='bold')
ax1.yaxis.set_label_coords(-0.100, 0.5)

draw(ax2, A_CF, [CF_TR_1, CF_TR_2, CF_TR_3, CF_TR_4, CF_TR_5, CF_TR_6, CF_TR_7], CF_TR_TOT,
     nolines=(5, 6, 7))
axes_fmt(ax2, XL_CF, (0, 2.0), 0.1, [0, 0.5, 1.0, 1.5, 2.0], '%.1f', False)
key_block(ax2, ([0.811, 0.708, 0.606, 0.508], [0.811, 0.708, 0.606]),
          (0.563, 0.63, 0.91, 0.596, 0.692), (0.785, 0.867, 0.91, 0.817, 0.913),
          'T r', nolines=(5, 6, 7))
total_key(ax2, 0.06, 0.159, 0.561, 0.169)
tag(ax2, 0.16, 0.837, CF_TAG)

# residual energy
draw(ax3, A_U, [U_ER_1, U_ER_2, U_ER_3, U_ER_4, U_ER_5, U_ER_6, U_ER_7], U_ER_TOT, mark5='^')
axes_fmt(ax3, XL_U, (0, 23.2), 1, [0, 5, 10, 15, 20], '%d', False)
key_block(ax3, ([0.79, 0.688, 0.586, 0.484], [0.767, 0.665, 0.564]),
          (0.584, 0.658, 0.887, 0.615, 0.713), (0.809, 0.887, 0.868, 0.84, 0.94),
          'E r', mark5='^')
total_key(ax3, 0.072, 0.174, 0.563, 0.18)
tag(ax3, 0.148, 0.844, U_TAG)
ax3.set_ylabel('Residual Energy (MeV)', fontsize=15, fontweight='bold')
ax3.yaxis.set_label_coords(-0.095, 0.5)

draw(ax4, A_CF, [CF_ER_1, CF_ER_2, CF_ER_3, CF_ER_4, CF_ER_5, CF_ER_6, CF_ER_7], CF_ER_TOT)
axes_fmt(ax4, XL_CF, (0, 35), 1, [0, 5, 10, 15, 20, 25, 30], '%d', False)
key_block(ax4, ([0.82, 0.719, 0.616, 0.517], [0.82, 0.719, 0.616]),
          (0.56, 0.635, 0.913, 0.592, 0.688), (0.785, 0.871, 0.913, 0.817, 0.915), 'E r')
total_key(ax4, 0.058, 0.156, 0.559, 0.165)
tag(ax4, 0.179, 0.848, CF_TAG)

# mean energy
draw(ax5, A_U, [U_EP_1, U_EP_2, U_EP_3, U_EP_4, U_EP_5, U_EP_6, U_EP_7], None)
axes_fmt(ax5, XL_U, (0, 3.0), 0.1, [0, 0.5, 1.0, 1.5, 2.0, 2.5], '%.1f', True)
key_block(ax5, ([0.818, 0.716, 0.614, 0.511], [0.803, 0.703, 0.602]),
          (0.60, 0.678, 0.913, 0.633, 0.732), (0.816, 0.896, 0.90, 0.849, 0.947), '< ε>')
tag(ax5, 0.152, 0.837, U_TAG)
ax5.set_ylabel('<ε> (MeV)', fontsize=17, fontweight='bold')
ax5.yaxis.set_label_coords(-0.093, 0.5)
ax5.set_xlabel('initial fragment mass numberA', fontsize=14, fontweight='bold')
ax5.xaxis.set_label_coords(0.512, -0.159)

draw(ax6, A_CF, [CF_EP_1, CF_EP_2, CF_EP_3, CF_EP_4, CF_EP_5, CF_EP_6, CF_EP_7], None)
axes_fmt(ax6, XL_CF, (0, 3.5), 0.1, [0, 0.5, 1.0, 1.5, 2.0, 2.5, 3.0], '%.1f', True)
key_block(ax6, ([0.814, 0.712, 0.61, 0.508], [0.814, 0.712, 0.61]),
          (0.563, 0.642, 0.909, 0.596, 0.692), (0.785, 0.871, 0.909, 0.817, 0.913), '< ε>')
tag(ax6, 0.175, 0.833, CF_TAG)
ax6.set_xlabel('initial fragment mass numberA', fontsize=14, fontweight='bold')
ax6.xaxis.set_label_coords(0.504, -0.159)

fig.savefig('out.png', dpi=100)
